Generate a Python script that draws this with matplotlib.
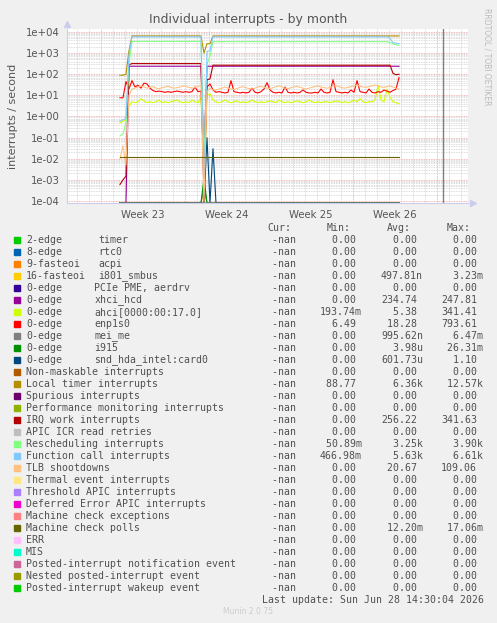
import numpy as np
import matplotlib.pyplot as plt
from matplotlib.patches import Rectangle

W, H = 497, 623

# sample times, in days since the start of week 23 (6 hour steps)
days = 1.583 + 0.25 * np.arange(94)

# series (interrupts / second), 0 = no interrupts
local_timer = [90, 90, 100, 1300] + [6500] * 24 + [1000, 2800, 2800, 6500] + [6500] * 62
function_call = [0.6, 0.7, 0.8, 800] + [5900] * 24 + [2e-4, 1200, 1300, 5900] + [5900] * 58 + [5000, 3100, 3000, 2800]
rescheduling = [0.12, 0.15, 0.5, 300] + [3600] * 24 + [0.01, 300, 700, 3500] + [3500] * 58 + [3200, 2700, 2500, 2300]
irq_work = [6e-4, 1e-3, 1.5e-3, 280] + [320] * 24 + [1e-4, 55, 60, 270] + [268] * 58 + [270, 110, 95, 100]
xhci_hcd = [0, 0, 0, 240] + [240] * 24 + [0.02, 240, 240, 240] + [240] * 62
enp1s0 = ([7.7, 7.7, 45, 20]
          + [50, 25, 30, 22, 38, 35, 22, 17, 15, 16, 15, 14, 15, 14, 15, 16, 15, 14, 15, 14, 15, 25, 15, 16]
          + [0.002, 25, 35, 18]
          + [14, 15, 14, 13, 14, 50, 15, 14, 13, 14, 13, 14, 22, 14, 13, 15, 20, 40, 18, 14,
             13, 14, 13, 25, 14, 13, 14, 13, 14, 18, 14, 13, 13, 14, 13, 20, 14, 13, 14, 55,
             15, 14, 13, 14, 13, 18, 14, 50, 15, 14, 13, 20, 14, 13, 15, 14, 18, 16, 14, 17,
             20, 70])
tlb = ([0.01, 0.04, 0.005, 10]
       + [20, 22, 25, 28, 25, 22, 24, 26, 22, 21, 23, 25, 27, 24, 22, 23, 25, 28, 26, 24, 22, 24, 26, 30]
       + [1e-4, 15, 22, 18]
       + [18, 20, 22, 25, 22, 20, 19, 21, 24, 26, 23, 21, 20, 22, 25, 27, 24, 22, 21, 23,
          26, 28, 25, 22, 21, 23, 25, 27, 24, 22, 20, 22, 24, 26, 28, 25, 23, 22, 24, 27,
          29, 26, 23, 22, 24, 26, 28, 30, 27, 25, 24, 26, 28, 31, 28, 25, 24, 26, 28, 25,
          22, 20])
ahci = ([0.5, 0.6, 0.7, 3]
        + [5, 4.5, 5, 7, 5.5, 4.5, 5, 4.5, 5, 6, 4.5, 5, 4.5, 5, 5.5, 6, 5, 4.5, 5, 4.5, 6, 5, 4.5, 8]
        + [1e-3, 10, 12, 6]
        + [5, 4.5, 5, 6, 5, 4.5, 5, 5.5, 4.5, 5, 4.5, 5, 6, 5, 4.5, 5, 4.5, 5, 5.5, 5,
           4.5, 6, 5, 4.5, 5, 4.5, 5, 5.5, 5, 4.5, 5, 6, 5, 4.5, 5, 4.5, 5, 5, 4.5, 5,
           5.5, 5, 4.5, 5, 4.5, 5, 6, 5, 7, 5, 4.5, 5]
        + [5, 6, 30, 6, 5, 20, 8, 5, 4.5, 4])
mc_polls = [0.012] * 94
i915 = [0] * 28 + [1.2e-3] + [0] * 65
snd_hda = [0] * 29 + [0.1, 0, 0.03] + [0] * 62
smbus = [0] * 28 + [3e-4] + [0] * 65
mei_me = [0] * 28 + [5e-4] + [0] * 65
zeros = [0] * 94

# legend rows
irq_prefix = ["2-edge", "8-edge", "9-fasteoi", "16-fasteoi", "0-edge", "0-edge", "0-edge",
              "0-edge", "0-edge", "0-edge", "0-edge"]
irq_names = ["timer", "rtc0", "acpi", "i801_smbus", "PCIe PME, aerdrv", "xhci_hcd",
             "ahci[0000:00:17.0]", "enp1s0", "mei_me", "i915", "snd_hda_intel:card0"]
other_names = ["Non-maskable interrupts", "Local timer interrupts", "Spurious interrupts",
               "Performance monitoring interrupts", "IRQ work interrupts", "APIC ICR read retries",
               "Rescheduling interrupts", "Function call interrupts", "TLB shootdowns",
               "Thermal event interrupts", "Threshold APIC interrupts", "Deferred Error APIC interrupts",
               "Machine check exceptions", "Machine check polls", "ERR", "MIS",
               "Posted-interrupt notification event", "Nested posted-interrupt event",
               "Posted-interrupt wakeup event"]
colors = ["#00CC00", "#0066B3", "#FF8000", "#FFCC00", "#330099", "#990099", "#CCFF00", "#FF0000",
          "#808080", "#008F00", "#00487D", "#B35A00", "#B38F00", "#6B006B", "#8FB300", "#B30000",
          "#BEBEBE", "#80FF80", "#80C9FF", "#FFC080", "#FFE680", "#AA80FF", "#EE00CC", "#FF8080",
          "#666600", "#FFBFFF", "#00FFCC", "#CC6699", "#999900", "#00CC00"]
min_vals = ["0.00"] * 6 + ["193.74m", "6.49"] + ["0.00"] * 4 + ["88.77"] + ["0.00"] * 4 + \
           ["50.89m", "466.98m"] + ["0.00"] * 11
avg_vals = ["0.00", "0.00", "0.00", "497.81n", "0.00", "234.74", "5.38", "18.28", "995.62n",
            "3.98u", "601.73u", "0.00", "6.36k", "0.00", "0.00", "256.22", "0.00", "3.25k",
            "5.63k", "20.67", "0.00", "0.00", "0.00", "0.00", "12.20m", "0.00", "0.00", "0.00",
            "0.00", "0.00"]
max_vals = ["0.00", "0.00", "0.00", "3.23m", "0.00", "247.81", "341.41", "793.61", "6.47m",
            "26.31m", "1.10", "0.00", "12.57k", "0.00", "0.00", "341.63", "0.00", "3.90k",
            "6.61k", "109.06", "0.00", "0.00", "0.00", "0.00", "17.06m", "0.00", "0.00", "0.00",
            "0.00", "0.00"]

series = [zeros, zeros, zeros, smbus, zeros, xhci_hcd, ahci, enp1s0, mei_me, i915, snd_hda,
          zeros, local_timer, zeros, zeros, irq_work, zeros, rescheduling, function_call, tlb,
          zeros, zeros, zeros, zeros, mc_polls, zeros, zeros, zeros, zeros, zeros]

week_starts = [0, 7, 14, 21, 28]
week_mid = [3.5, 10.5, 17.5, 24.5]
week_labels = ["Week 23", "Week 24", "Week 25", "Week 26"]
decades = [1e-4, 1e-3, 1e-2, 1e-1, 1e0, 1e1, 1e2, 1e3, 1e4]
decade_labels = ["1e-04", "1e-03", "1e-02", "1e-01", "1e+00", "1e+01", "1e+02", "1e+03", "1e+04"]

ymin, ymax = 8.0e-5, 1.39e4

fig = plt.figure(figsize=(W / 100, H / 100), dpi=100, facecolor="#F0F0F0")
ax = fig.add_axes([67 / W, 1 - 203 / H, 401 / W, 174 / H])
ax.set_facecolor("white")
ax.set_yscale("log")
ax.set_xlim(-2.83, 30.58)
ax.set_ylim(ymin, ymax)

# grid
for d in range(-2, 31):
    if d not in week_starts:
        ax.axvline(d, color="#d0d0d0", lw=0.6, ls=(0, (1, 1)), zorder=0)
for d in week_starts:
    ax.axvline(d, color="#f0a0a0", lw=0.6, ls=(0, (1, 1)), zorder=0)
for dec in decades:
    for m in range(2, 10):
        if dec * m < ymax:
            ax.axhline(dec * m, color="#d0d0d0", lw=0.6, ls=(0, (1, 1)), zorder=0)
for dec in decades:
    ax.axhline(dec, color="#f0a0a0", lw=0.6, ls=(0, (1, 1)), zorder=0)

for vals, c in zip(series, colors):
    v = np.array(vals, dtype=float)
    v = np.where(v <= 0, ymin, v)
    ax.plot(days, v, color=c, lw=0.8, zorder=2)

ax.axvline(28.5, color="#808080", lw=1.0, zorder=3)

ax.set_yticks(decades)
ax.set_yticklabels(decade_labels)
ax.minorticks_off()
ax.set_xticks(week_mid)
ax.set_xticklabels(week_labels)
ax.tick_params(length=0, labelsize=7.3, colors="#555555", pad=5)
for s in ["top", "right"]:
    ax.spines[s].set_visible(False)
for s in ["left", "bottom"]:
    ax.spines[s].set_color("#ccccee")
    ax.spines[s].set_linewidth(0.8)
ax.plot([0], [1.03], marker="^", ms=4, color="#ccccee", transform=ax.transAxes, clip_on=False)
ax.plot([1.012], [0], marker=">", ms=4, color="#ccccee", transform=ax.transAxes, clip_on=False)

ax.set_ylabel("interrupts / second", fontsize=8, color="#555555", labelpad=6)
fig.text(248 / W, 1 - 19 / H, "Individual interrupts - by month", ha="center", va="center",
         fontsize=9, color="#555555")
fig.text(487 / W, 1 - 8 / H, "RRDTOOL / TOBI OETIKER", rotation=270, ha="center", va="top",
         fontsize=5.5, color="#bbbbbb")

# legend
mono = dict(family="DejaVu Sans Mono", fontsize=7.1, color="#505050", va="center")
hy = 1 - 228 / H
for x, t in zip([267, 327, 387, 447], ["Cur:", "Min:", "Avg:", "Max:"]):
    fig.text(x / W, hy, t, **mono)


def fmt(s):
    num = s.rstrip("kmnu")
    return "%6s%s" % (num, s[len(num):])


for i in range(30):
    y = 240 + 12 * i
    fy = 1 - y / H
    fig.add_artist(Rectangle((14 / W, 1 - (y + 3) / H), 6 / W, 6 / H, color=colors[i],
                             transform=fig.transFigure))
    if i < len(irq_prefix):
        fig.text(26 / W, fy, irq_prefix[i], **mono)
        fig.text((98.5 if i < 4 else 94.5) / W, fy, irq_names[i], **mono)
    else:
        fig.text(26 / W, fy, other_names[i - len(irq_prefix)], **mono)
    fig.text(260 / W, fy, "%6s" % "-nan", **mono)
    fig.text(320 / W, fy, fmt(min_vals[i]), **mono)
    fig.text(381 / W, fy, fmt(avg_vals[i]), **mono)
    fig.text(441 / W, fy, fmt(max_vals[i]), **mono)

fig.text(262 / W, 1 - 600 / H, "Last update: Sun Jun 28 14:30:04 2026", **mono)
fig.text(248 / W, 1 - 612 / H, "Munin 2.0.75", ha="center", va="center", fontsize=5.5,
         color="#cccccc")

fig.savefig("out.png", dpi=100, facecolor=fig.get_facecolor())
